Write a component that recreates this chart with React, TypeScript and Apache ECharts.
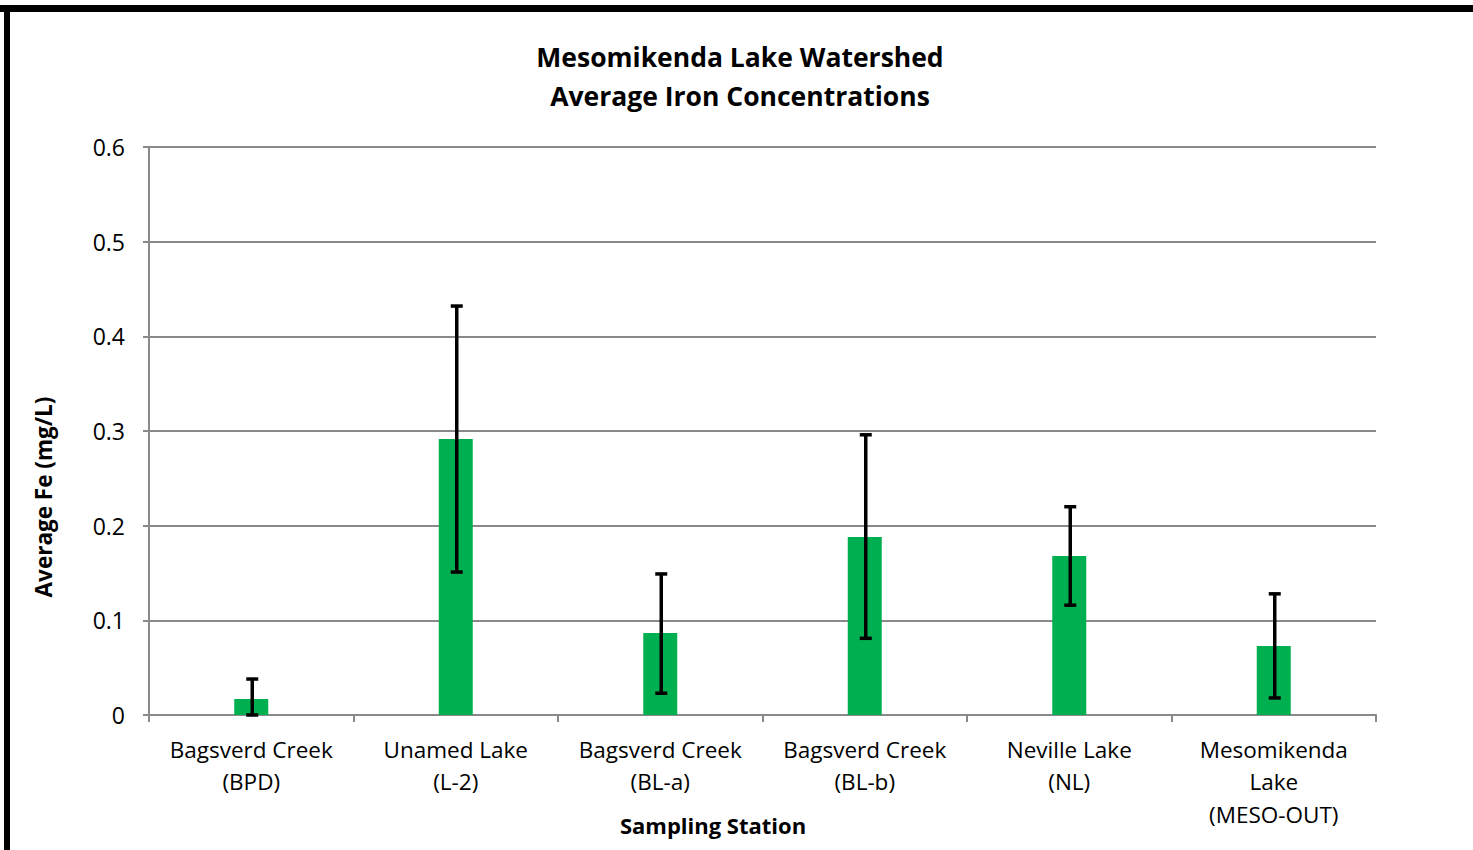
import React, { useEffect, useRef } from "react";
import * as echarts from "echarts";

const categories = [
  "Bagsverd Creek\n(BPD)",
  "Unamed Lake\n(L-2)",
  "Bagsverd Creek\n(BL-a)",
  "Bagsverd Creek\n(BL-b)",
  "Neville Lake\n(NL)",
  "Mesomikenda\nLake\n(MESO-OUT)",
];
const averageFe = [0.017, 0.2915, 0.0866, 0.188, 0.168, 0.073];
const errorLow = [0.0, 0.151, 0.023, 0.081, 0.116, 0.018];
const errorHigh = [0.038, 0.432, 0.149, 0.296, 0.22, 0.128];

const FONT = "'Open Sans', Lato, sans-serif";

export default function App() {
  const ref = useRef<HTMLDivElement>(null);
  useEffect(() => {
    if (!ref.current) return;
    const chart = echarts.init(ref.current, undefined, { renderer: "svg" });
    const errData = categories.map((_, i) => [i, errorLow[i], errorHigh[i]]);
    chart.setOption({
      animation: false,
      backgroundColor: "#ffffff",
      textStyle: { fontFamily: FONT },
      title: {
        text: "Mesomikenda Lake Watershed\nAverage Iron Concentrations",
        left: 735,
        top: 32,
        textAlign: "center",
        textStyle: {
          fontFamily: FONT,
          fontSize: 26.5,
          fontWeight: "bold",
          color: "#000",
          lineHeight: 39,
        },
      },
      grid: { left: 149, right: 97, top: 147, bottom: 135, containLabel: false },
      xAxis: {
        type: "category",
        data: categories,
        axisLine: { lineStyle: { color: "#898989", width: 2 } },
        axisTick: { show: true, length: 7, lineStyle: { color: "#898989", width: 2 } },
        axisLabel: {
          interval: 0,
          margin: 18,
          fontSize: 22.5,
          lineHeight: 32.5,
          color: "#000",
          fontFamily: FONT,
        },
        splitLine: { show: false },
      },
      yAxis: {
        type: "value",
        min: 0,
        max: 0.6,
        interval: 0.1,
        axisLine: { show: true, lineStyle: { color: "#898989", width: 2 } },
        axisTick: { show: true, length: 6, lineStyle: { color: "#898989", width: 2 } },
        axisLabel: {
          margin: 24,
          fontSize: 23,
          color: "#000",
          fontFamily: FONT,
          formatter: (v: number) => (v === 0 ? "0" : v.toFixed(1)),
        },
        splitLine: { show: true, lineStyle: { color: "#898989", width: 2 } },
      },
      series: [
        {
          type: "bar",
          data: averageFe,
          barWidth: 34,
          itemStyle: { color: "#00B050" },
          z: 2,
        },
        {
          type: "custom",
          data: errData,
          z: 3,
          renderItem: (params: any, api: any) => {
            const x = api.value(0);
            const lo = api.coord([x, api.value(1)]);
            const hi = api.coord([x, api.value(2)]);
            const cx = lo[0] + 1;
            const capW = 12;
            const style = { stroke: "#000", lineWidth: 3.5 };
            return {
              type: "group",
              children: [
                { type: "line", shape: { x1: cx, y1: lo[1], x2: cx, y2: hi[1] }, style },
                { type: "line", shape: { x1: cx - capW / 2, y1: hi[1], x2: cx + capW / 2, y2: hi[1] }, style },
                { type: "line", shape: { x1: cx - capW / 2, y1: lo[1], x2: cx + capW / 2, y2: lo[1] }, style },
              ],
            };
          },
        },
      ],
      graphic: [
        { type: "rect", shape: { x: 0, y: 5, width: 1473, height: 7 }, style: { fill: "#000" } },
        { type: "rect", shape: { x: 4, y: 5, width: 6, height: 845 }, style: { fill: "#000" } },
        {
          type: "text",
          x: 713,
          y: 825,
          style: {
            text: "Sampling Station",
            fontFamily: FONT,
            fontSize: 22,
            fontWeight: "bold",
            fill: "#000",
            align: "center",
            verticalAlign: "middle",
          },
        },
        {
          type: "text",
          x: 43,
          y: 497,
          rotation: Math.PI / 2,
          style: {
            text: "Average Fe (mg/L)",
            fontFamily: FONT,
            fontSize: 22.5,
            fontWeight: "bold",
            fill: "#000",
            align: "center",
            verticalAlign: "middle",
          },
        },
      ],
    });
    return () => chart.dispose();
  }, []);
  return (
    <div
      ref={ref}
      style={{ position: "fixed", left: 0, top: 0, width: 1473, height: 850 }}
    />
  );
}
